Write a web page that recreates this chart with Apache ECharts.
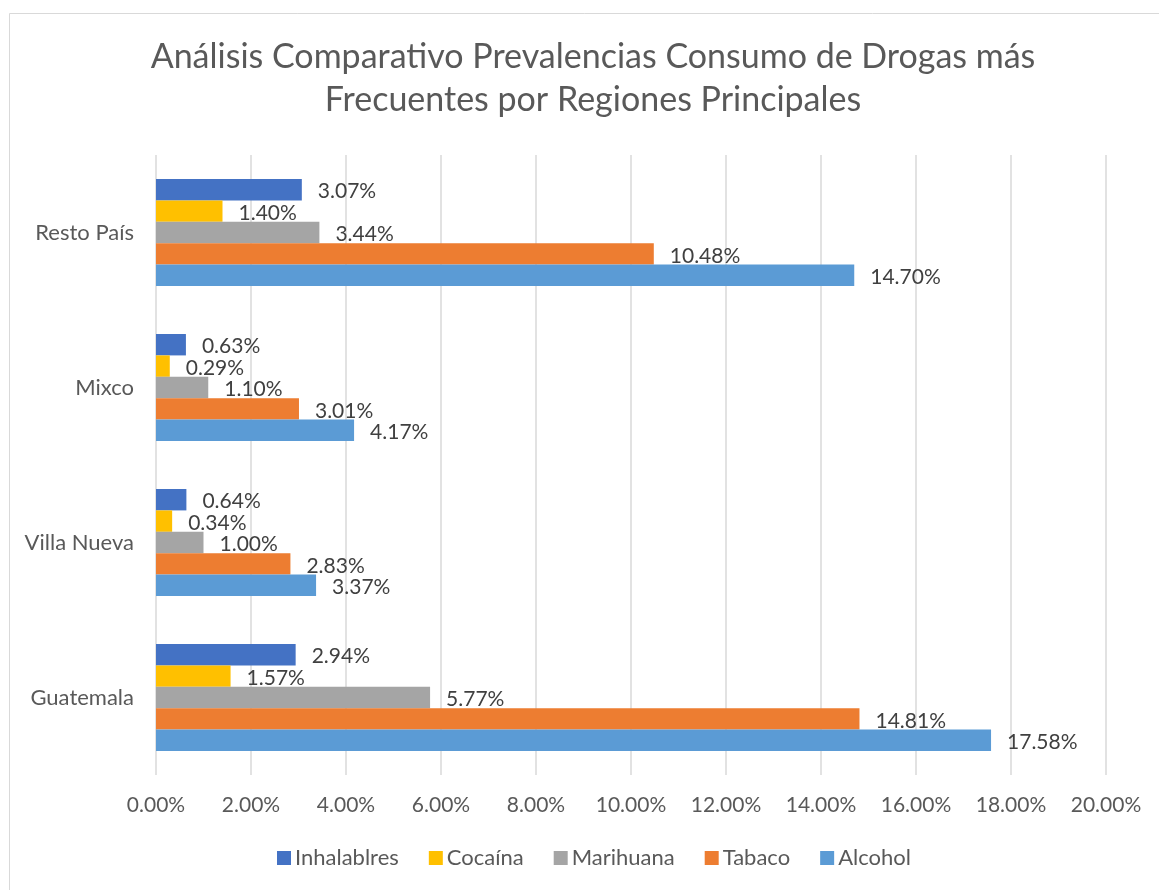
<!DOCTYPE html>
<html>
<head>
<meta charset="utf-8">
<script src="https://cdn.jsdelivr.net/npm/echarts@6/dist/echarts.min.js"></script>
<style>
  html, body { margin: 0; padding: 0; background: #fff; }
  #chart { width: 1159px; height: 890px; }
</style>
</head>
<body>
<div id="chart"></div>
<script>
// regiones, de abajo hacia arriba como en el eje
var regiones = ['Guatemala', 'Villa Nueva', 'Mixco', 'Resto País'];

var inhalablres = [2.94, 0.64, 0.63, 3.07];
var cocaina     = [1.57, 0.34, 0.29, 1.40];
var marihuana   = [5.77, 1.00, 1.10, 3.44];
var tabaco      = [14.81, 2.83, 3.01, 10.48];
var alcohol     = [17.58, 3.37, 4.17, 14.70];

var xTicks = [0, 2, 4, 6, 8, 10, 12, 14, 16, 18, 20];

var font = 'Lato, "Open Sans", sans-serif';
var gris = '#595959';

function serie(name, data, color) {
  return {
    name: name,
    type: 'bar',
    data: data,
    barGap: 0,
    barCategoryGap: '31%',
    itemStyle: { color: color },
    label: {
      show: true,
      position: 'right',
      distance: 16,
      offset: [0, 2],
      color: '#404040',
      fontSize: 21,
      fontFamily: font,
      formatter: function (p) { return p.value.toFixed(2) + '%' }
    }
  }
}

var chart = echarts.init(document.getElementById('chart'))
chart.setOption({
  backgroundColor: '#fff',
  animation: false,
  graphic: [{
    type: 'rect',
    left: 7, top: 11,
    shape: { width: 1151, height: 877 },
    style: { fill: 'none', stroke: '#d9d9d9', lineWidth: 1 },
    silent: true
  }],
  title: {
    text: 'Análisis Comparativo Prevalencias Consumo de Drogas más\nFrecuentes por Regiones Principales',
    left: 588,
    textAlign: 'center',
    top: 31,
    textStyle: {
      color: gris,
      fontSize: 34,
      fontWeight: 'normal',
      fontFamily: font,
      lineHeight: 43
    }
  },
  legend: {
    bottom: 16,
    left: 272,
    itemWidth: 14,
    itemHeight: 14,
    itemGap: 30,
    icon: 'rect',
    textStyle: { color: gris, fontSize: 22, fontFamily: font, padding: [0, 0, 0, -1] },
    data: ['Inhalablres', 'Cocaína', 'Marihuana', 'Tabaco', 'Alcohol']
  },
  grid: {
    left: 156,
    right: 53,
    top: 155,
    bottom: 115
  },
  xAxis: {
    type: 'value',
    min: xTicks[0],
    max: xTicks[xTicks.length - 1],
    interval: 2,
    axisLine: { show: false },
    axisTick: { show: false },
    splitLine: { lineStyle: { color: '#d9d9d9', width: 1.5 } },
    axisLabel: {
      margin: 20,
      color: gris,
      fontSize: 21,
      fontFamily: font,
      formatter: function (v) { return v.toFixed(2) + '%' }
    }
  },
  yAxis: {
    type: 'category',
    data: regiones,
    axisLine: { show: false },
    axisTick: { show: false },
    axisLabel: { margin: 22, color: gris, fontSize: 22, fontFamily: font }
  },
  series: [
    serie('Inhalablres', inhalablres, '#4472C4'),
    serie('Cocaína', cocaina, '#FFC000'),
    serie('Marihuana', marihuana, '#A5A5A5'),
    serie('Tabaco', tabaco, '#ED7D31'),
    serie('Alcohol', alcohol, '#5B9BD5')
  ]
})
</script>
</body>
</html>
